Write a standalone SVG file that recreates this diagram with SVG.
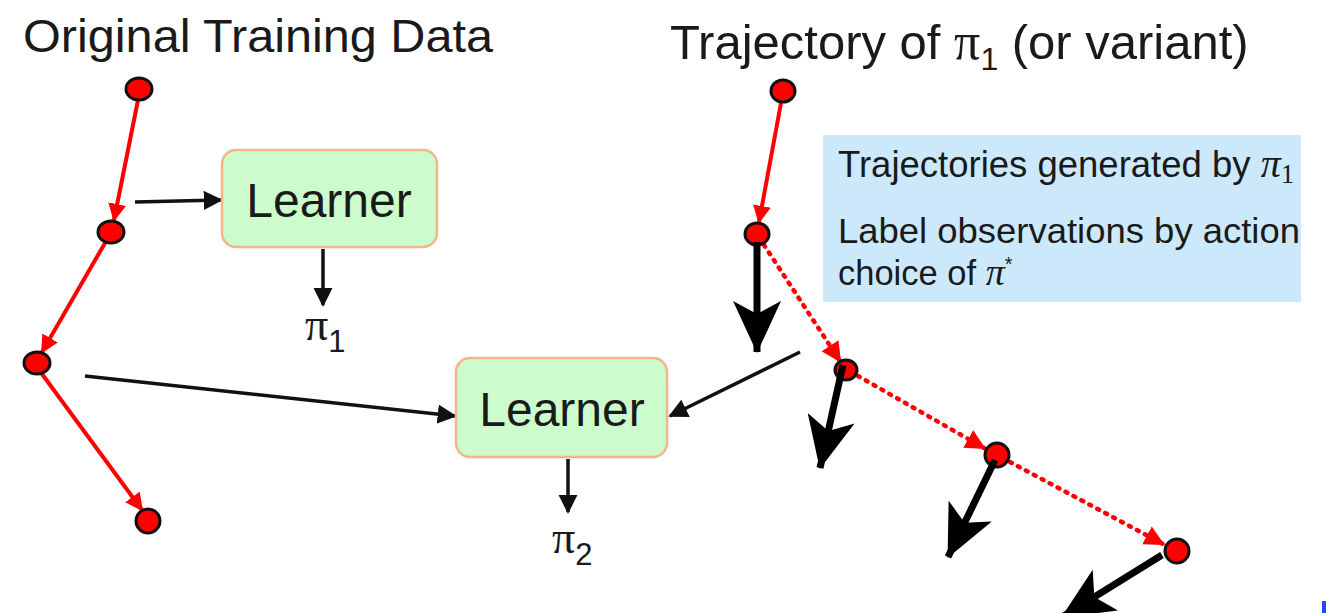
<svg xmlns="http://www.w3.org/2000/svg" width="1326" height="613" viewBox="0 0 1326 613">
<defs>
<style>
.t{font-family:"Liberation Sans",Arial,sans-serif;fill:#1a1a1a}
.m{font-family:"Liberation Serif","Times New Roman",serif;fill:#1a1a1a}
.box{fill:#ccfccc;stroke:#f4b48c;stroke-width:2.5}
.dot{fill:#ff0000;stroke:#111;stroke-width:3}
.red{stroke:#ff0000;stroke-width:4;fill:none}
.dots{stroke:#ff0000;stroke-width:4.5;fill:none;stroke-dasharray:2 7;stroke-linecap:round}
.thin{stroke:#111;stroke-width:3.5;fill:none}
.thick{stroke:#000;stroke-width:7;fill:none}
</style>
<marker id="ar" viewBox="0 0 10 10" refX="9" refY="5" markerWidth="4.5" markerHeight="4.5" markerUnits="strokeWidth" orient="auto"><path d="M0,0 L10,5 L0,10 z" fill="#ff0000"/></marker>
<marker id="ab" viewBox="0 0 10 10" refX="9" refY="5" markerWidth="5.5" markerHeight="5.5" markerUnits="strokeWidth" orient="auto"><path d="M0,0 L10,5 L0,10 z" fill="#111"/></marker>
<marker id="ak" viewBox="0 0 52 48" refX="51" refY="24" markerWidth="52" markerHeight="48" markerUnits="userSpaceOnUse" orient="auto"><path d="M0,0 L52,24 L0,48 L13,24 z" fill="#000"/></marker>
</defs>
<rect width="1326" height="613" fill="#fff"/>
<text class="t" x="23" y="52" font-size="47" textLength="470" lengthAdjust="spacingAndGlyphs">Original Training Data</text>
<text class="t" x="670" y="59" font-size="49">Trajectory of <tspan class="m" font-size="52">π</tspan><tspan font-size="32" dy="11">1</tspan><tspan dy="-11"> (or variant)</tspan></text>
<g id="infobox">
<rect x="823" y="135" width="478" height="167" fill="#cce9fb"/>
<text class="t" x="838" y="177" font-size="36.5">Trajectories generated by <tspan class="m" font-style="italic" font-size="40">π</tspan><tspan class="m" font-size="27" dy="6">1</tspan></text>
<text class="t" x="838" y="243" font-size="34.5" textLength="462" lengthAdjust="spacingAndGlyphs">Label observations by action</text>
<text class="t" x="838" y="285" font-size="34.5">choice of <tspan class="m" font-style="italic" font-size="38">π</tspan><tspan font-size="20" dy="-14">*</tspan></text>
</g>
<g id="connectors">
<line class="red" x1="138" y1="100" x2="114" y2="220" marker-end="url(#ar)"/>
<line class="red" x1="105" y1="243" x2="42" y2="352" marker-end="url(#ar)"/>
<line class="red" x1="42" y1="374" x2="142" y2="510" marker-end="url(#ar)"/>
<line class="red" x1="781" y1="103" x2="759" y2="222" marker-end="url(#ar)"/>
<line class="dots" x1="764" y1="245" x2="840" y2="361" marker-end="url(#ar)"/>
<line class="dots" x1="858" y1="376" x2="984" y2="448" marker-end="url(#ar)"/>
<line class="dots" x1="1010" y1="462" x2="1163" y2="544" marker-end="url(#ar)"/>
<line class="thin" x1="135" y1="202" x2="221" y2="200" marker-end="url(#ab)"/>
<line class="thin" x1="323" y1="249" x2="323" y2="305" marker-end="url(#ab)"/>
<line class="thin" x1="85" y1="376" x2="455" y2="416" marker-end="url(#ab)"/>
<line class="thin" x1="800" y1="352" x2="670" y2="416" marker-end="url(#ab)"/>
<line class="thin" x1="568" y1="459" x2="568" y2="512" marker-end="url(#ab)"/>
</g>
<g id="dots">
<ellipse class="dot" cx="139" cy="89" rx="13" ry="11"/>
<ellipse class="dot" cx="111" cy="232" rx="13" ry="11"/>
<ellipse class="dot" cx="37" cy="363" rx="13" ry="11"/>
<ellipse class="dot" cx="148" cy="521" rx="12" ry="12"/>
<ellipse class="dot" cx="783" cy="91" rx="12" ry="11"/>
<ellipse class="dot" cx="757" cy="234" rx="12" ry="11"/>
<ellipse class="dot" cx="846" cy="370" rx="11" ry="10"/>
<ellipse class="dot" cx="997" cy="455" rx="12" ry="12"/>
<ellipse class="dot" cx="1177" cy="551" rx="12" ry="12"/>
</g>
<g id="actions">
<line class="thick" x1="757" y1="242" x2="757" y2="352" marker-end="url(#ak)"/>
<line class="thick" x1="843" y1="365" x2="820" y2="468" marker-end="url(#ak)"/>
<line class="thick" x1="995" y1="460" x2="948" y2="557" marker-end="url(#ak)"/>
<line class="thick" x1="1162" y1="555" x2="1062" y2="617" marker-end="url(#ak)"/>
</g>
<g id="learner1">
<rect class="box" x="222" y="150" width="215" height="97" rx="14"/>
<text class="t" x="329" y="217" font-size="48" text-anchor="middle">Learner</text>
</g>
<g id="learner2">
<rect class="box" x="456" y="358" width="211" height="99" rx="14"/>
<text class="t" x="562" y="426" font-size="48" text-anchor="middle">Learner</text>
</g>
<g id="pi1">
<text class="m" x="305" y="340" font-size="46">π<tspan class="t" font-size="31" dy="12">1</tspan></text>
</g>
<g id="pi2">
<text class="m" x="552" y="553" font-size="46">π<tspan class="t" font-size="31" dy="12">2</tspan></text>
</g>
<rect x="1322" y="601" width="4" height="12" fill="#1a4cff"/>
</svg>
